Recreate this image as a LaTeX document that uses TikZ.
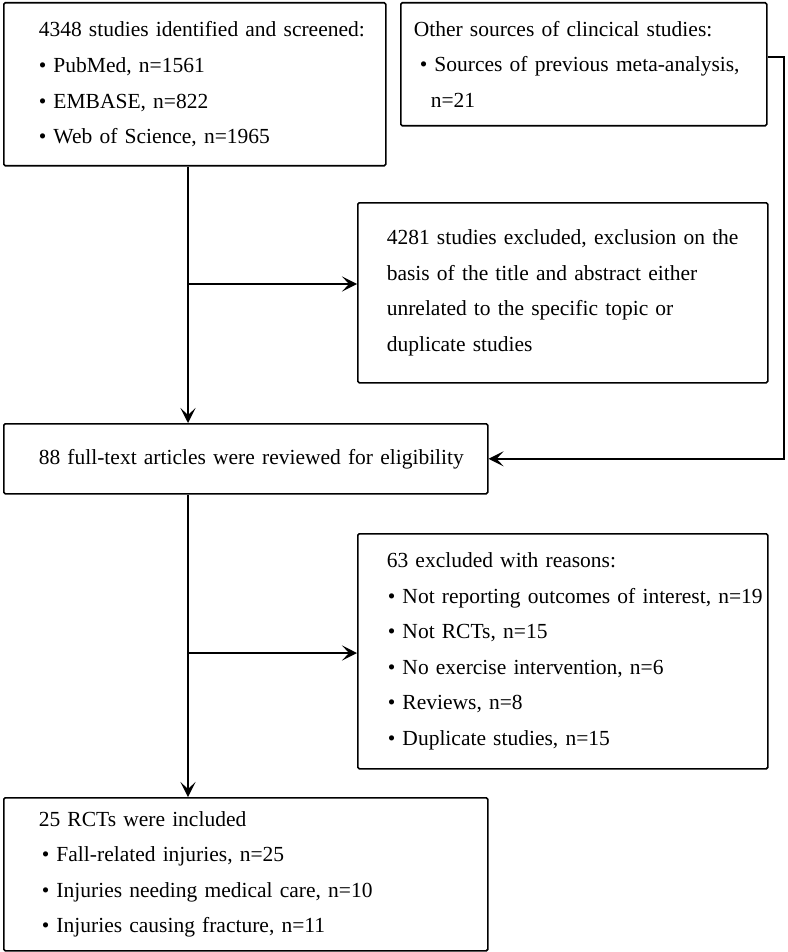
\documentclass[tikz,border=0pt]{standalone}
\usepackage{fontspec}
\setmainfont{Liberation Serif}
\usetikzlibrary{arrows.meta, positioning, calc}

\begin{document}
\begin{tikzpicture}[x=1pt, y=-1pt,
    box/.style={draw, line width=1.6pt, rounded corners=1.5pt, anchor=north west,
        align=left, font=\fontsize{21.5}{35.6}\selectfont, inner xsep=0pt, inner ysep=0pt},
    pad/.style={execute at begin node={\hyphenpenalty=10000\leftskip=#1}},
    arr/.style={line width=1.5pt, -{Stealth[length=15pt, width=15pt, inset=7pt]}}]
    \useasboundingbox (0,0) rectangle (787,952);

    % Boxes (top left corner, text inset, width, height)
    \node[box, pad=35pt, text width=382pt, minimum height=163pt] (ident) at (3,2)
        {4348 studies identified and screened:\\
         \textbullet\ PubMed, n=1561\\
         \textbullet\ EMBASE, n=822\\
         \textbullet\ Web of Science, n=1965};
    \node[box, pad=13pt, text width=366pt, minimum height=123pt] (other) at (400,2)
        {Other sources of clincical studies:\\
         \hspace*{6pt}\textbullet\ Sources of previous meta-analysis,\\
         \hspace*{17pt}n=21};
    \node[box, pad=29pt, text width=410pt, minimum height=180pt] (excl) at (357,202)
        {4281 studies excluded, exclusion on the\\
         basis of the title and abstract either\\
         unrelated to the specific topic or\\
         duplicate studies};
    \node[box, pad=35pt, text width=484pt, minimum height=70pt] (full) at (3,423)
        {88 full-text articles were reviewed for eligibility};
    \node[box, pad=29pt, text width=410pt, minimum height=235pt] (reasons) at (357,533)
        {63 excluded with reasons:\\
         \hspace*{1pt}\textbullet\ Not reporting outcomes of interest, n=19\\
         \hspace*{1pt}\textbullet\ Not RCTs, n=15\\
         \hspace*{1pt}\textbullet\ No exercise intervention, n=6\\
         \hspace*{1pt}\textbullet\ Reviews, n=8\\
         \hspace*{1pt}\textbullet\ Duplicate studies, n=15};
    \node[box, pad=35pt, text width=484pt, minimum height=153pt] (incl) at (3,797)
        {25 RCTs were included\\
         \hspace*{3pt}\textbullet\ Fall-related injuries, n=25\\
         \hspace*{3pt}\textbullet\ Injuries needing medical care, n=10\\
         \hspace*{3pt}\textbullet\ Injuries causing fracture, n=11};

    % Connectors
    \coordinate (spine) at (188,0);
    \coordinate (b1) at (188,284);
    \coordinate (b2) at (188,653);
    \coordinate (side) at (784,57);
    \draw[arr] (ident.south -| spine) -- (full.north -| spine);
    \draw[arr] (b1) -- (b1 -| excl.west);
    \draw[arr] (side -| other.east) -- (side) |- (full.east);
    \draw[arr] (full.south -| spine) -- (incl.north -| spine);
    \draw[arr] (b2) -- (b2 -| reasons.west);
\end{tikzpicture}
\end{document}
